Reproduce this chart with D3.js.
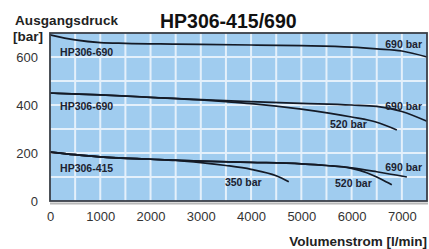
<!DOCTYPE html>
<html>
<head>
<meta charset="utf-8">
<script src="https://d3js.org/d3.v7.min.js"></script>
<style>
  html, body { margin: 0; padding: 0; background: #fff; }
  svg { display: block; font-family: "Liberation Sans", Arial, sans-serif; }
</style>
</head>
<body>
<svg id="chart" width="429" height="249"></svg>
<script>
// data (flow l/min, pressure bar)
var xTicks = [0, 1000, 2000, 3000, 4000, 5000, 6000, 7000];
var yTicks = [0, 200, 400, 600];

var top690X = [0, 500, 1000, 1500, 2500, 4000, 5000, 6000, 6500, 7000, 7500];
var top690Y = [692, 671, 660, 657, 654, 650, 647, 641, 634, 625, 600];

var mid690X = [0, 1000, 2000, 3000, 4000, 5000, 6000, 6500, 7000, 7500];
var mid690Y = [450, 442, 432, 422, 414, 407, 400, 394, 373, 332];

var mid520X = [0, 1000, 2000, 3000, 3500, 4000, 5000, 6000, 6500, 6900];
var mid520Y = [450, 442, 432, 421, 414, 406, 383, 350, 328, 296];

var low690X = [0, 500, 1000, 2000, 3000, 4000, 5000, 5500, 6000, 6500, 7100];
var low690Y = [204, 193, 184, 174, 166, 161, 155, 148, 138, 122, 100];

var low520X = [0, 500, 1000, 2000, 3000, 4000, 5000, 5500, 6000, 6300, 6600, 6800];
var low520Y = [204, 193, 184, 174, 166, 161, 155, 148, 136, 118, 90, 68];

var low350X = [0, 500, 1000, 2000, 2500, 3000, 3500, 4000, 4500, 4750];
var low350Y = [204, 193, 184, 174, 169, 160, 148, 132, 105, 80];

var labelText = ["HP306-690", "HP306-690", "HP306-415", "690 bar", "690 bar", "520 bar", "350 bar", "520 bar", "690 bar"];
var labelX    = [200, 200, 200, 6670, 6670, 5570, 3480, 5670, 6670];
var labelY    = [621, 396, 137, 654, 396, 321, 79, 75, 142];

// layout (plot box edges)
var pLeft = 50, pRight = 427, pTop = 33, pBottom = 201;
var svg = d3.select("#chart");

var x = d3.scaleLinear().domain([0, 7500]).range([pLeft, pRight]);
var y = d3.scaleLinear().domain([0, 700]).range([pBottom, pTop]);

// plot background
svg.append("rect")
  .attr("x", pLeft).attr("y", pTop)
  .attr("width", pRight - pLeft).attr("height", pBottom - pTop)
  .attr("fill", "#a0ccef");

// grid
svg.append("g").selectAll("line")
  .data(d3.range(500, 7500, 500))
  .enter().append("line")
  .attr("x1", function(d) { return x(d); })
  .attr("x2", function(d) { return x(d); })
  .attr("y1", pTop).attr("y2", pBottom)
  .attr("stroke", "#e4f0fb").attr("stroke-width", 2);

svg.append("g").selectAll("line")
  .data(d3.range(100, 700, 100))
  .enter().append("line")
  .attr("y1", function(d) { return y(d); })
  .attr("y2", function(d) { return y(d); })
  .attr("x1", pLeft).attr("x2", pRight)
  .attr("stroke", "#e4f0fb").attr("stroke-width", 2);

// curves
var curves = [
  [top690X, top690Y], [mid690X, mid690Y], [mid520X, mid520Y],
  [low690X, low690Y], [low520X, low520Y], [low350X, low350Y]
];
var line = d3.line()
  .x(function(d) { return x(d[0]); })
  .y(function(d) { return y(d[1]); })
  .curve(d3.curveMonotoneX);

svg.append("g").selectAll("path")
  .data(curves)
  .enter().append("path")
  .attr("d", function(c) { return line(d3.zip(c[0], c[1])); })
  .attr("fill", "none")
  .attr("stroke", "#141a26")
  .attr("stroke-width", 1.7);

// frame with a little shadow
svg.append("line")
  .attr("x1", pLeft).attr("x2", pRight + 1)
  .attr("y1", pBottom + 2.5).attr("y2", pBottom + 2.5)
  .attr("stroke", "#b8b8b8").attr("stroke-width", 2);
svg.append("rect")
  .attr("x", pLeft).attr("y", pTop)
  .attr("width", pRight - pLeft).attr("height", pBottom - pTop)
  .attr("fill", "none")
  .attr("stroke", "#3a3f47").attr("stroke-width", 1.8);

// curve labels
svg.append("g").selectAll("text")
  .data(labelText)
  .enter().append("text")
  .attr("x", function(d, i) { return x(labelX[i]); })
  .attr("y", function(d, i) { return y(labelY[i]); })
  .attr("dy", "0.35em")
  .attr("font-size", 10.5)
  .attr("font-weight", "bold")
  .attr("fill", "#1c2230")
  .text(function(d) { return d; });

// axes
var xAxis = svg.append("g")
  .attr("transform", "translate(0," + pBottom + ")")
  .call(d3.axisBottom(x).tickValues(xTicks).tickFormat(d3.format("d")).tickSize(0).tickPadding(11));
var yAxis = svg.append("g")
  .attr("transform", "translate(" + pLeft + ",0)")
  .call(d3.axisLeft(y).tickValues(yTicks).tickFormat(d3.format("d")).tickSize(0).tickPadding(12));
[xAxis, yAxis].forEach(function(a) {
  a.select(".domain").remove();
  a.selectAll("text")
    .attr("font-family", "Liberation Sans, Arial, sans-serif")
    .attr("font-size", 13)
    .attr("fill", "#333");
});

// titles
svg.append("text")
  .attr("x", 160).attr("y", 28)
  .attr("font-size", 19.5).attr("font-weight", "bold").attr("fill", "#111")
  .text("HP306-415/690");
svg.append("text")
  .attr("x", 15).attr("y", 25)
  .attr("font-size", 13.5).attr("font-weight", "bold").attr("fill", "#222")
  .attr("textLength", 103)
  .text("Ausgangsdruck");
svg.append("text")
  .attr("x", 13).attr("y", 41)
  .attr("font-size", 13.5).attr("font-weight", "bold").attr("fill", "#222")
  .text("[bar]");
svg.append("text")
  .attr("x", 427).attr("y", 246)
  .attr("text-anchor", "end")
  .attr("font-size", 13.5).attr("font-weight", "bold").attr("fill", "#222")
  .text("Volumenstrom [l/min]");
</script>
</body>
</html>
